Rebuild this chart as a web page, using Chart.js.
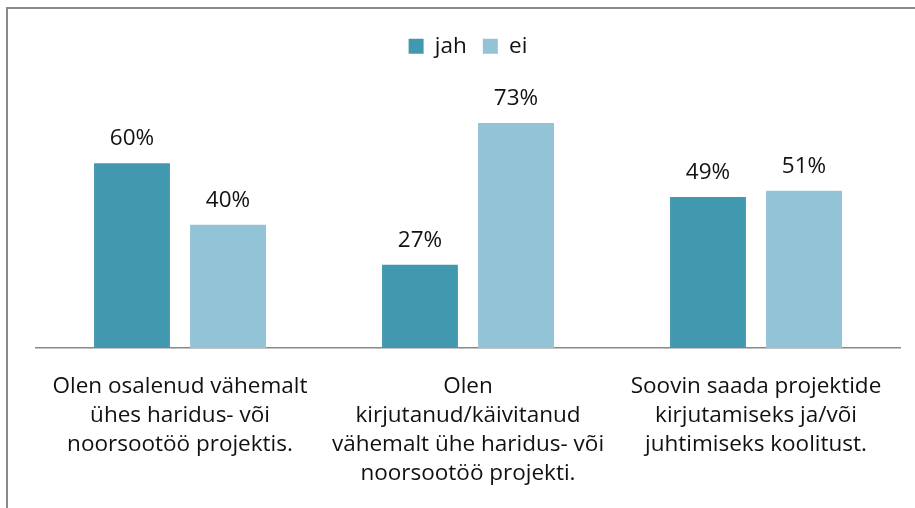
<!DOCTYPE html>
<html>
<head>
<meta charset="utf-8">
<script src="https://cdn.jsdelivr.net/npm/chart.js@4"></script>
<style>
  html, body { margin: 0; padding: 0; background: #fff; }
  #wrap { position: absolute; left: 0; top: 0; width: 915px; height: 508px; }
  #frame { position: absolute; left: 6px; top: 7px; width: 909px; height: 501px;
           border-top: 2px solid #8a8a8a; border-left: 2px solid #8a8a8a; box-sizing: border-box; }
  canvas { position: absolute; left: 0; top: 0; }
</style>
</head>
<body>
<div id="wrap">
  <div id="frame"></div>
  <canvas id="c" width="915" height="508"></canvas>
</div>
<script>
const categories = [
  ["Olen osalenud vähemalt", "ühes haridus- või", "noorsootöö projektis."],
  ["Olen", "kirjutanud/käivitanud", "vähemalt ühe haridus- või", "noorsootöö projekti."],
  ["Soovin saada projektide", "kirjutamiseks ja/või", "juhtimiseks koolitust."]
];
const seriesNames = ["jah", "ei"];
const jahValues = [0.60, 0.27, 0.49];
const eiValues = [0.40, 0.73, 0.51];
const colors = ["#4298AF", "#93C3D6"];
const FONT = "'Open Sans', sans-serif";
const FSIZE = 22.5;

const labelPlugin = {
  id: 'barLabels',
  afterDatasetsDraw(chart) {
    const ctx = chart.ctx;
    ctx.save();
    ctx.font = FSIZE + "px " + FONT;
    ctx.fillStyle = "#111";
    ctx.textAlign = "center";
    ctx.textBaseline = "bottom";
    chart.data.datasets.forEach((ds, i) => {
      chart.getDatasetMeta(i).data.forEach((bar, j) => {
        ctx.fillText(Math.round(ds.data[j] * 100) + "%", bar.x, bar.y - 13);
      });
    });
    ctx.restore();
  }
};

const legendSpace = {
  id: 'legendSpace',
  beforeUpdate(chart) {
    const lg = chart.legend;
    if (lg && !lg._wrapped) {
      const f = lg.fit;
      lg.fit = function () { f.call(this); this.height += 34; };
      lg._wrapped = true;
    }
  }
};

new Chart(document.getElementById('c'), {
  type: 'bar',
  data: {
    labels: categories,
    datasets: [
      { label: seriesNames[0], data: jahValues, backgroundColor: colors[0] },
      { label: seriesNames[1], data: eiValues, backgroundColor: colors[1] }
    ]
  },
  options: {
    responsive: false,
    animation: false,
    devicePixelRatio: 1,
    layout: { padding: { left: 36, right: 15, top: 19, bottom: 0 } },
    datasets: { bar: { categoryPercentage: 0.667, barPercentage: 0.79 } },
    plugins: {
      legend: {
        position: 'top',
        labels: {
          font: { family: FONT, size: FSIZE },
          color: "#111",
          boxWidth: 15, boxHeight: 15, padding: 16
        }
      },
      tooltip: { enabled: false }
    },
    scales: {
      x: {
        grid: { display: false, drawTicks: false },
        border: { display: true, color: "#888", width: 1.5 },
        ticks: { font: { family: FONT, size: FSIZE, lineHeight: 1.29 }, color: "#111", padding: 24, maxRotation: 0 },
        afterFit(scale) { scale.height = 160; }
      },
      y: {
        display: false,
        min: 0, max: 0.8
      }
    }
  },
  plugins: [labelPlugin, legendSpace]
});
</script>
</body>
</html>
